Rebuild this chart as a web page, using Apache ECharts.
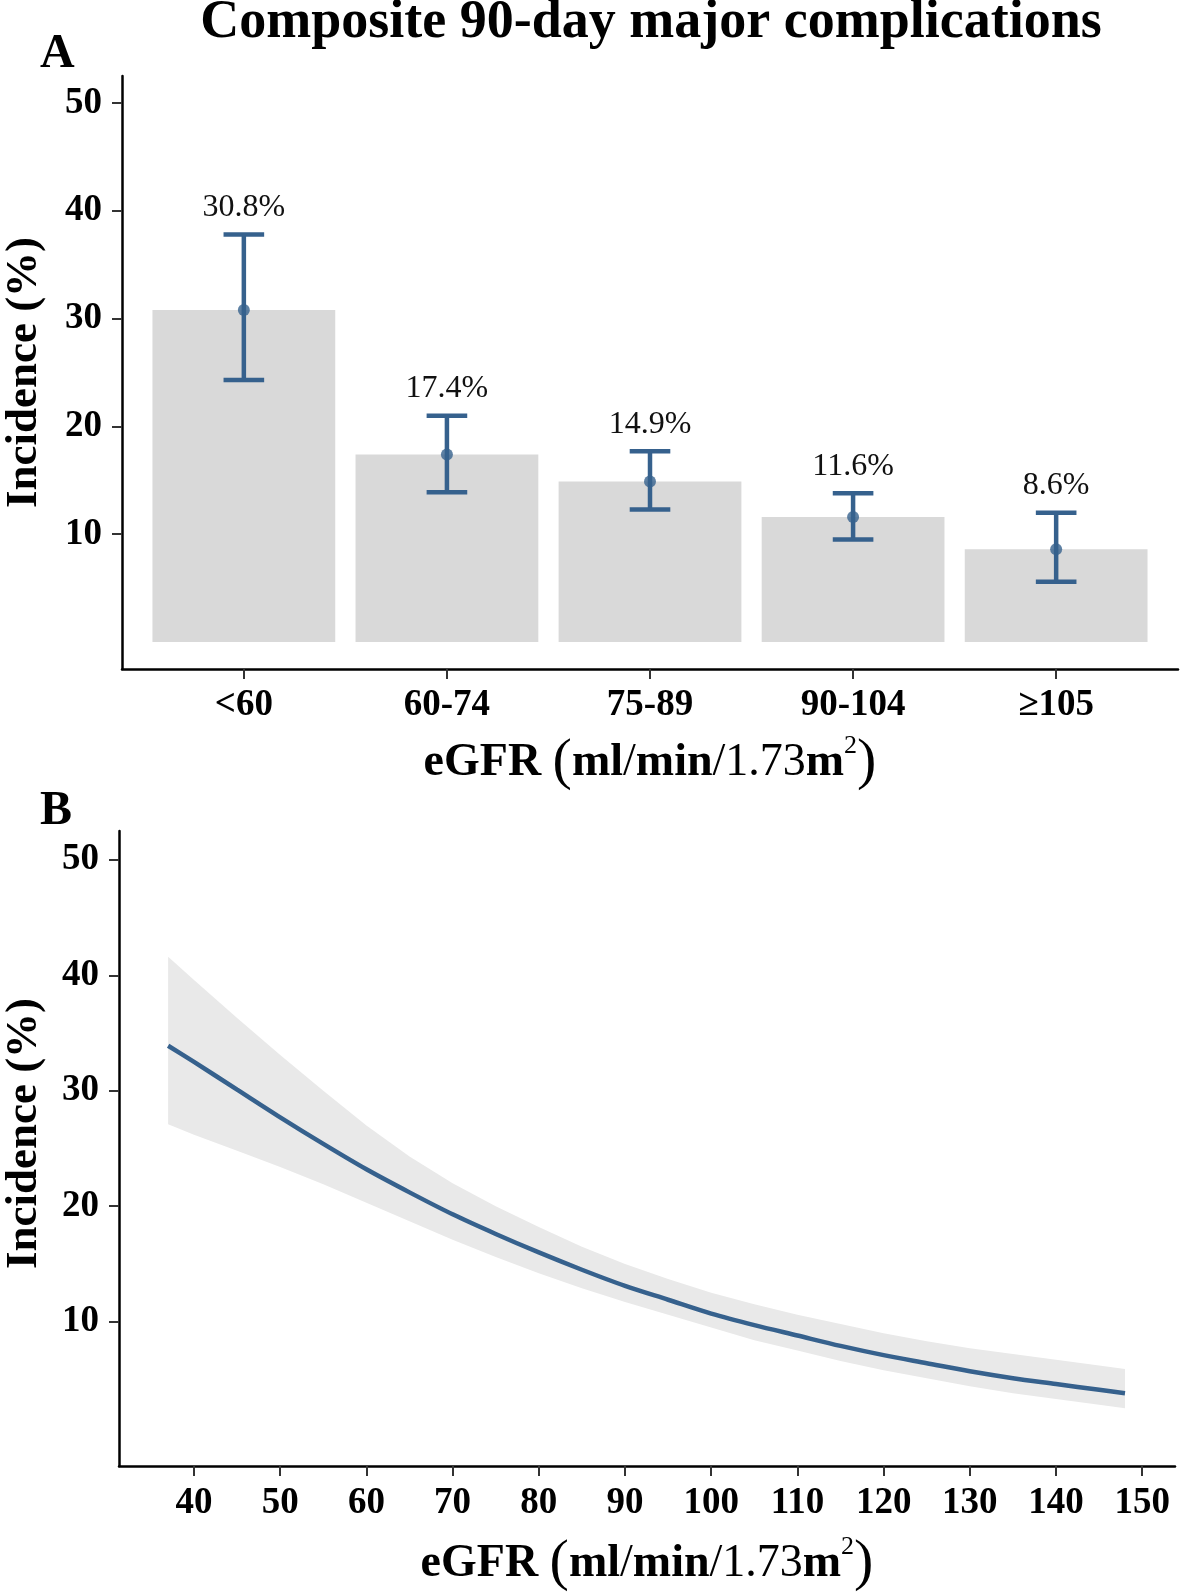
<!DOCTYPE html>
<html><head><meta charset="utf-8">
<script src="https://cdn.jsdelivr.net/npm/echarts/dist/echarts.min.js"></script>
<style>html,body{margin:0;padding:0;background:#fff}#c{width:1181px;height:1592px}</style>
</head><body><div id="c"></div>
<script>
// ---- Panel A data ----
const categories = ['<60', '60-74', '75-89', '90-104', '≥105'];
const incidence = [30.8, 17.4, 14.9, 11.6, 8.6];
const ciLow = [24.3, 13.9, 12.3, 9.5, 5.6];
const ciHigh = [37.8, 21.0, 17.7, 13.8, 12.0];
const pctLabels = ['30.8%', '17.4%', '14.9%', '11.6%', '8.6%'];
const yTicks = [10, 20, 30, 40, 50];
// ---- Panel B data ----
const egfr =    [37, 40, 45, 50, 55, 60, 65, 70, 75, 80, 85, 90, 95, 100, 105, 110, 115, 120, 125, 130, 135, 140, 145, 148];
const fit =     [33.9, 32.5, 30.1, 27.7, 25.4, 23.2, 21.2, 19.3, 17.6, 16.0, 14.5, 13.1, 11.9, 10.7, 9.7, 8.8, 7.9, 7.1, 6.4, 5.7, 5.1, 4.6, 4.1, 3.8];
const fitHigh = [41.6, 39.6, 36.3, 33.1, 30.0, 27.0, 24.3, 22.0, 20.0, 18.2, 16.5, 15.0, 13.7, 12.5, 11.5, 10.6, 9.8, 9.0, 8.3, 7.7, 7.2, 6.7, 6.2, 5.9];
const fitLow =  [27.1, 26.2, 24.8, 23.4, 21.9, 20.3, 18.7, 17.1, 15.6, 14.2, 12.9, 11.7, 10.6, 9.5, 8.4, 7.5, 6.6, 5.8, 5.1, 4.4, 3.8, 3.3, 2.8, 2.5];
const xTicksB = [40, 50, 60, 70, 80, 90, 100, 110, 120, 130, 140, 150];

const FONT = "'Liberation Serif','Times New Roman',serif";
const BLUE = '#36618d';
const catIdx = categories.map((c, i) => i + 1);

const axisLine = { show: true, onZero: false, lineStyle: { color: '#000', width: 2.5 } };
const axisTick = (vals) => ({ show: true, length: 10, customValues: vals, lineStyle: { color: '#333', width: 2 } });
const tickLabel = (vals, margin, fmt) => ({
  show: true, customValues: vals, margin: margin, color: '#000',
  fontFamily: FONT, fontWeight: 'bold', fontSize: 37, formatter: fmt
});
const xNameRich = {
  b: { fontFamily: FONT, fontWeight: 'bold', fontSize: 46, color: '#000' },
  r: { fontFamily: FONT, fontSize: 46, color: '#000' },
  p: { fontFamily: FONT, fontSize: 58, color: '#000', lineHeight: 60 },
  s: { fontFamily: FONT, fontSize: 26, color: '#000', verticalAlign: 'top', lineHeight: 30 }
};
const xName = '{b|eGFR }{p|(}{b|ml}{r|/}{b|min}{r|/1.73}{b|m}{s|2}{p|)}';

const chart = echarts.init(document.getElementById('c'), null, { renderer: 'canvas' });
chart.setOption({
  animation: false,
  backgroundColor: '#fff',
  graphic: [
    { type: 'text', x: 651, y: 23, style: { text: 'Composite 90-day major complications', fontFamily: FONT, fontWeight: 'bold', fontSize: 54, fill: '#000', align: 'center', verticalAlign: 'middle' } },
    { type: 'text', x: 40, y: 55, style: { text: 'A', fontFamily: FONT, fontWeight: 'bold', fontSize: 48, fill: '#000', align: 'left', verticalAlign: 'middle' } },
    { type: 'text', x: 40, y: 812, style: { text: 'B', fontFamily: FONT, fontWeight: 'bold', fontSize: 48, fill: '#000', align: 'left', verticalAlign: 'middle' } }
  ],
  grid: [
    { left: 122, top: 76, width: 1056, height: 593, outerBoundsMode: 'none', containLabel: false },
    { left: 119, top: 831, width: 1056, height: 635, outerBoundsMode: 'none', containLabel: false }
  ],
  xAxis: [
    { gridIndex: 0, type: 'value', min: 0.4, max: 5.6, axisLine, splitLine: { show: false },
      axisTick: axisTick(catIdx),
      axisLabel: tickLabel(catIdx, 18, v => categories[Math.round(v) - 1]),
      name: xName, nameLocation: 'middle', nameGap: 64,
      nameTextStyle: { rich: xNameRich } },
    { gridIndex: 1, type: 'value', min: 31.3, max: 153.8, axisLine, splitLine: { show: false },
      axisTick: axisTick(xTicksB),
      axisLabel: tickLabel(xTicksB, 19),
      name: xName, nameLocation: 'middle', nameGap: 68,
      nameTextStyle: { rich: xNameRich } }
  ],
  yAxis: [
    { gridIndex: 0, type: 'value', min: -2.5, max: 52.5, axisLine, splitLine: { show: false },
      axisTick: axisTick(yTicks), axisLabel: tickLabel(yTicks, 20),
      name: 'Incidence (%)', nameLocation: 'middle', nameGap: 75,
      nameTextStyle: { fontFamily: FONT, fontWeight: 'bold', fontSize: 45, color: '#000' } },
    { gridIndex: 1, type: 'value', min: -2.5, max: 52.5, axisLine, splitLine: { show: false },
      axisTick: axisTick(yTicks), axisLabel: tickLabel(yTicks, 20),
      name: 'Incidence (%)', nameLocation: 'middle', nameGap: 72,
      nameTextStyle: { fontFamily: FONT, fontWeight: 'bold', fontSize: 45, color: '#000', padding: [0, 0, 0, 30] } }
  ],
  series: [
    { type: 'custom', xAxisIndex: 0, yAxisIndex: 0, silent: true,
      data: incidence.map((v, i) => [i + 1, v]),
      encode: { x: 0, y: 1 },
      renderItem: (params, api) => {
        const x = api.value(0), v = api.value(1);
        const p0 = api.coord([x - 0.45, v]);
        const p1 = api.coord([x + 0.45, 0]);
        return { type: 'rect', shape: { x: p0[0], y: p0[1], width: p1[0] - p0[0], height: p1[1] - p0[1] }, style: { fill: '#d9d9d9' } };
      } },
    { type: 'custom', xAxisIndex: 0, yAxisIndex: 0, silent: true, z: 3,
      data: ciLow.map((lo, i) => [i + 1, lo, ciHigh[i]]),
      encode: { x: 0, y: [1, 2] },
      renderItem: (params, api) => {
        const x = api.value(0);
        const pl = api.coord([x, api.value(1)]);
        const ph = api.coord([x, api.value(2)]);
        const half = api.size([0.1, 0])[0];
        const st = { stroke: BLUE, lineWidth: 4.5 };
        return { type: 'group', children: [
          { type: 'line', shape: { x1: pl[0], y1: pl[1], x2: ph[0], y2: ph[1] }, style: st },
          { type: 'line', shape: { x1: ph[0] - half, y1: ph[1], x2: ph[0] + half, y2: ph[1] }, style: st },
          { type: 'line', shape: { x1: pl[0] - half, y1: pl[1], x2: pl[0] + half, y2: pl[1] }, style: st },
          { type: 'text', x: ph[0], y: ph[1] - 27, style: { text: pctLabels[params.dataIndex], fontFamily: FONT, fontSize: 32, fill: '#111', align: 'center', verticalAlign: 'middle' } }
        ] };
      } },
    { type: 'scatter', xAxisIndex: 0, yAxisIndex: 0, silent: true, z: 4,
      symbol: 'circle', symbolSize: 12, itemStyle: { color: BLUE },
      data: incidence.map((v, i) => [i + 1, v]) },
    { type: 'custom', xAxisIndex: 1, yAxisIndex: 1, silent: true,
      data: egfr.map((x, i) => [x, fitLow[i], fitHigh[i]]),
      encode: { x: 0, y: [1, 2] },
      renderItem: (params, api) => {
        if (params.dataIndex !== 0) return null;
        const pts = [];
        for (let i = 0; i < egfr.length; i++) pts.push(api.coord([egfr[i], fitHigh[i]]));
        for (let i = egfr.length - 1; i >= 0; i--) pts.push(api.coord([egfr[i], fitLow[i]]));
        return { type: 'polygon', shape: { points: pts }, style: { fill: '#e9e9e9' } };
      } },
    { type: 'line', xAxisIndex: 1, yAxisIndex: 1, silent: true, z: 3,
      showSymbol: false, smooth: 0.3,
      lineStyle: { color: BLUE, width: 4.5 },
      data: egfr.map((x, i) => [x, fit[i]]) }
  ]
});
</script>
</body></html>
